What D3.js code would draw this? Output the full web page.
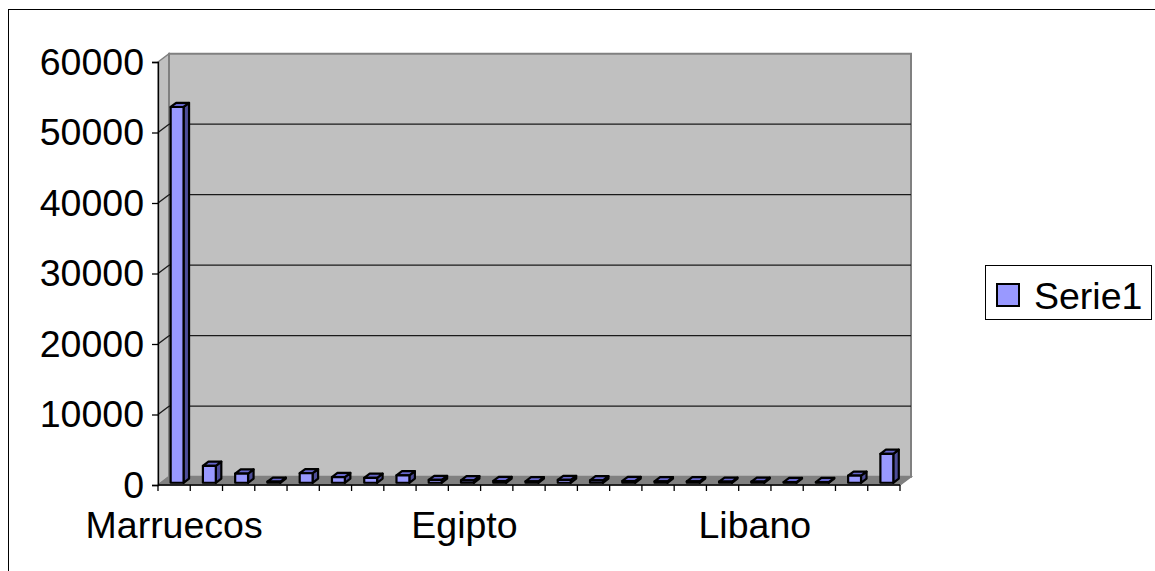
<!DOCTYPE html>
<html>
<head>
<meta charset="utf-8">
<script src="https://cdn.jsdelivr.net/npm/d3@7"></script>
<style>
  html, body { margin: 0; padding: 0; background: #ffffff; }
  svg { display: block; }
  text { font-family: "Liberation Sans", Arial, sans-serif; fill: #000; }
</style>
</head>
<body>
<svg id="chart" width="1155" height="571"></svg>
<script>
// ---- data ----
const categories = ["Marruecos", "", "", "", "", "", "", "", "", "Egipto", "", "", "", "", "", "", "", "", "Libano", "", "", "", ""];
const serie1 = [53300, 2400, 1300, 150, 1350, 800, 700, 1050, 400, 350, 250, 200, 400, 350, 250, 200, 200, 150, 150, 100, 100, 1000, 4100];
const yTicks = [0, 10000, 20000, 30000, 40000, 50000, 60000];
const seriesName = "Serie1";

(function () {
// ---- layout ----
const svg = d3.select("#chart");
const pLeft = 158, pRight = 900, pBottom = 485, pTop = 62;
const DX = 11, DY = -8.3;           // full depth of the floor / walls
const fFront = 0.27, fDepth = 0.5;  // bar position and depth as fraction of floor depth
const FS = "37.5px";

const x = d3.scaleBand().domain(d3.range(categories.length)).range([pLeft, pRight]).paddingInner(0).paddingOuter(0);
const y = d3.scaleLinear().domain([0, 60000]).range([pBottom, pTop]);

// outer border
svg.append("rect").attr("x", 8.5).attr("y", 9.5).attr("width", 1160).attr("height", 580)
  .attr("fill", "none").attr("stroke", "#000").attr("stroke-width", 1);

// walls
const wallStroke = "#808080";
svg.append("polygon") // left wall
  .attr("points", [[pLeft, y(60000)], [pLeft + DX, y(60000) + DY], [pLeft + DX, pBottom + DY], [pLeft, pBottom]].join(" "))
  .attr("fill", "#c0c0c0").attr("stroke", wallStroke).attr("stroke-width", 1.5);
svg.append("polygon") // back wall
  .attr("points", [[pLeft + DX, y(60000) + DY], [pRight + DX, y(60000) + DY], [pRight + DX, pBottom + DY], [pLeft + DX, pBottom + DY]].join(" "))
  .attr("fill", "#c0c0c0").attr("stroke", wallStroke).attr("stroke-width", 2);
svg.append("polygon") // floor
  .attr("points", [[pLeft, pBottom], [pLeft + DX, pBottom + DY], [pRight + DX, pBottom + DY], [pRight, pBottom]].join(" "))
  .attr("fill", "#808080").attr("stroke", wallStroke).attr("stroke-width", 1.5);

// gridlines
const grid = svg.append("g");
yTicks.filter(t => t > 0 && t < 60000).forEach(t => {
  grid.append("line").attr("x1", pLeft + DX).attr("x2", pRight + DX)
    .attr("y1", y(t) + DY).attr("y2", y(t) + DY).attr("stroke", "#1a1a1a").attr("stroke-width", 1.3);
  grid.append("line").attr("x1", pLeft).attr("x2", pLeft + DX)
    .attr("y1", y(t)).attr("y2", y(t) + DY).attr("stroke", "#1a1a1a").attr("stroke-width", 1.3);
});

// bars
const bw = x.bandwidth() * 0.4;
const fdx = DX * fFront, fdy = DY * fFront;
const bdx = DX * fDepth, bdy = DY * fDepth;
const bars = svg.append("g");
serie1.forEach((v, i) => {
  const x0 = x(i) + (x.bandwidth() - bw) / 2 + fdx;
  const yb = y(0) + fdy;
  const yt = y(v) + fdy;
  const g = bars.append("g").attr("stroke", "#000").attr("stroke-width", 2.2).attr("stroke-linejoin", "round");
  g.append("polygon").attr("points", [[x0 + bw, yt], [x0 + bw + bdx, yt + bdy], [x0 + bw + bdx, yb + bdy], [x0 + bw, yb]].join(" "))
    .attr("fill", "#4d4d99");
  g.append("polygon").attr("points", [[x0, yt], [x0 + bdx, yt + bdy], [x0 + bw + bdx, yt + bdy], [x0 + bw, yt]].join(" "))
    .attr("fill", "#6666cc");
  g.append("rect").attr("x", x0).attr("y", yt).attr("width", bw).attr("height", Math.max(0, yb - yt))
    .attr("fill", "#9999ff");
});

// y axis
const yAxis = d3.axisLeft(y).tickValues(yTicks).tickSize(6).tickPadding(8).tickFormat(d3.format("d"));
const ya = svg.append("g").attr("transform", `translate(${pLeft},0)`).call(yAxis);
ya.select(".domain").attr("stroke", "#000").attr("stroke-width", 1.3);
ya.selectAll(".tick line").attr("stroke", "#000").attr("stroke-width", 1.3);
ya.selectAll(".tick text").attr("font-size", FS).attr("font-family", "'Liberation Sans', Arial, sans-serif").attr("fill", "#000");

// x axis (ticks between categories)
const xa = svg.append("g");
xa.append("line").attr("x1", pLeft).attr("x2", pRight).attr("y1", pBottom).attr("y2", pBottom)
  .attr("stroke", "#000").attr("stroke-width", 1.3);
d3.range(categories.length + 1).forEach(i => {
  const xx = pLeft + i * x.step();
  xa.append("line").attr("x1", xx).attr("x2", xx).attr("y1", pBottom).attr("y2", pBottom + 6)
    .attr("stroke", "#000").attr("stroke-width", 1.3);
});
categories.forEach((c, i) => {
  if (!c) return;
  xa.append("text").attr("x", x(i) + x.bandwidth() / 2).attr("y", 538)
    .attr("text-anchor", "middle").attr("font-size", FS).text(c);
});

// legend
const lg = svg.append("g");
lg.append("rect").attr("x", 985.5).attr("y", 265.5).attr("width", 166).attr("height", 54)
  .attr("fill", "#fff").attr("stroke", "#000").attr("stroke-width", 1);
lg.append("rect").attr("x", 997).attr("y", 284).attr("width", 22).attr("height", 22)
  .attr("fill", "#9999ff").attr("stroke", "#000").attr("stroke-width", 2);
lg.append("text").attr("x", 1034).attr("y", 308.5).attr("font-size", FS).text(seriesName);
})();
</script>
</body>
</html>
